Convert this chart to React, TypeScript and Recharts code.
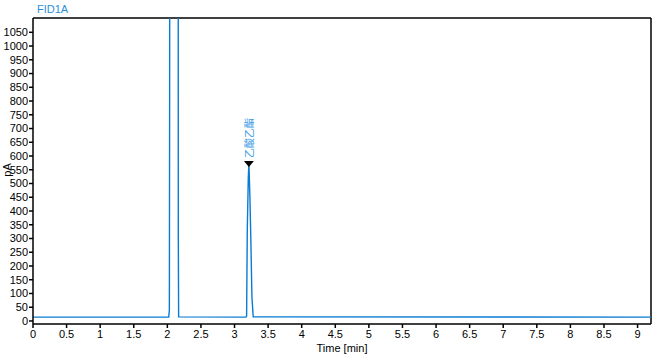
import { LineChart, Line, XAxis, YAxis, ReferenceLine, ReferenceDot } from 'recharts';

// retention time (min) and detector signal (pA)
const times = [0, 2.02, 2.03, 2.034, 2.04, 2.16, 2.163, 2.168, 3.17, 3.18, 3.19, 3.205, 3.214, 3.229, 3.244, 3.259, 3.278, 9.2];
const signal = [14, 14, 40, 812, 3000, 3000, 306, 15, 14, 18, 331, 520, 575, 452, 284, 88, 15, 14];

const xTicks = [0, 0.5, 1, 1.5, 2, 2.5, 3, 3.5, 4, 4.5, 5, 5.5, 6, 6.5, 7, 7.5, 8, 8.5, 9];
const yTicks = [0, 50, 100, 150, 200, 250, 300, 350, 400, 450, 500, 550, 600, 650, 700, 750, 800, 850, 900, 950, 1000, 1050];

const peakName = '乙酸乙酯';
const peakTime = 3.214;
const peakValue = 575;

const data = times.map((t, i) => ({ t, v: signal[i] }));

const FONT = '"Liberation Sans", Arial, sans-serif';
const tickStyle = { fontSize: 11, fontFamily: FONT, fill: '#000' };

function PeakMark(props: any) {
  const { cx, cy } = props;
  if (cx == null || cy == null) return null;
  return (
    <g>
      <path d={`M${cx - 5},${cy - 2} L${cx + 5},${cy - 2} L${cx},${cy + 4} Z`} fill="#000" />
      <text
        x={cx}
        y={cy - 5}
        transform={`rotate(-90 ${cx} ${cy - 5})`}
        fontSize={10}
        fontFamily={'"Noto Sans CJK SC", sans-serif'}
        fill="#3d9be6"
        dominantBaseline="central"
      >
        {peakName}
      </text>
    </g>
  );
}

export default function App() {
  return (
    <div style={{ position: 'absolute', left: 0, top: 0, width: 662, height: 361, background: '#fff' }}>
      <div style={{ position: 'absolute', left: 37, top: 3, fontSize: 11, fontFamily: FONT, color: '#2a8fdc' }}>FID1A</div>
      <div
        style={{
          position: 'absolute',
          left: 0,
          top: 164,
          fontSize: 11,
          fontFamily: FONT,
          color: '#000',
          transform: 'rotate(-90deg)',
          transformOrigin: 'center',
        }}
      >
        pA
      </div>
      <LineChart width={662} height={361} data={data} margin={{ top: 18, right: 11, bottom: 0, left: 0 }}>
        <XAxis
          type="number"
          dataKey="t"
          domain={[0, 9.2]}
          ticks={xTicks}
          allowDataOverflow
          interval={0}
          height={37}
          stroke="#000"
          strokeWidth={1.5}
          tickSize={4}
          tick={tickStyle}
          tickLine={{ stroke: '#000' }}
          label={{ value: 'Time [min]', position: 'insideBottom', offset: 9, style: { fontSize: 11, fontFamily: FONT, fill: '#000' } }}
        />
        <YAxis
          type="number"
          domain={[-11, 1102]}
          ticks={yTicks}
          allowDataOverflow
          interval={0}
          width={33}
          stroke="#000"
          strokeWidth={1.5}
          tickSize={4}
          tickMargin={1}
          tick={tickStyle}
          tickLine={{ stroke: '#000' }}
        />
        <ReferenceLine y={1102} stroke="#000" strokeWidth={1.5} />
        <ReferenceLine x={9.2} stroke="#000" strokeWidth={1.5} />
        <Line
          type="linear"
          dataKey="v"
          stroke="#0a7bd2"
          strokeWidth={1.4}
          dot={false}
          isAnimationActive={false}
        />
        <ReferenceDot x={peakTime} y={peakValue} shape={PeakMark} ifOverflow="visible" />
      </LineChart>
    </div>
  );
}
